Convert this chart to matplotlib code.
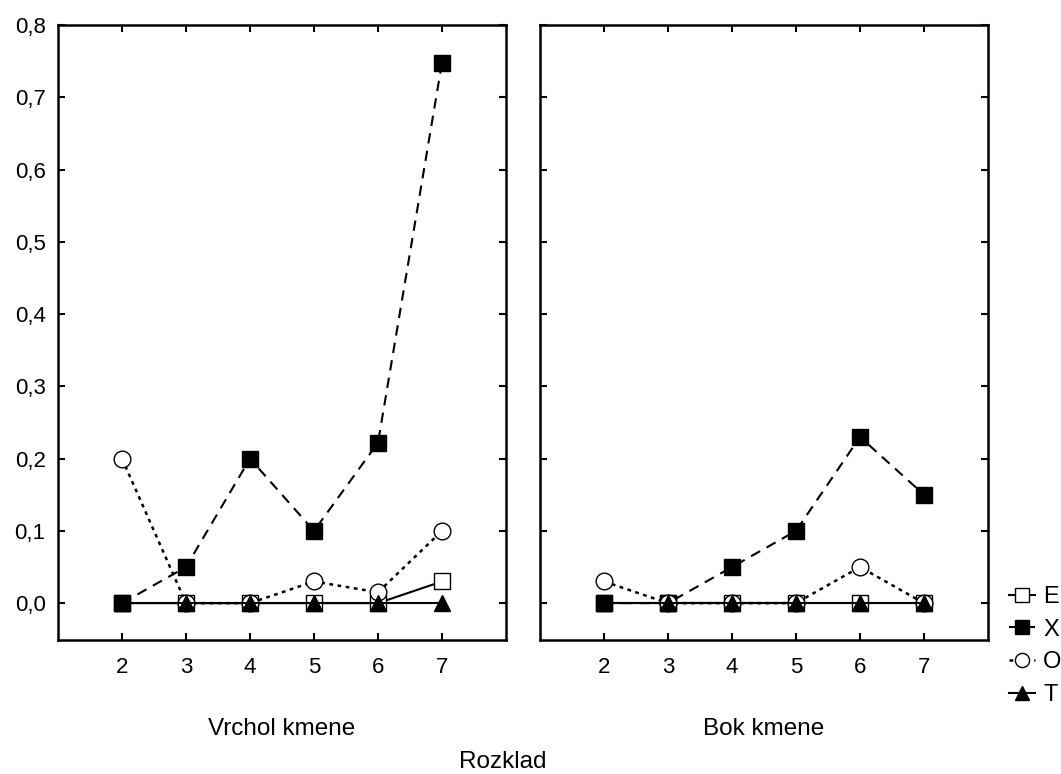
import matplotlib
matplotlib.use("Agg")
import matplotlib.pyplot as plt

plt.rcParams["font.family"] = ["Liberation Sans", "DejaVu Sans"]

rozklad = [2, 3, 4, 5, 6, 7]
panels = ["Vrchol kmene", "Bok kmene"]

# values per panel: (Vrchol kmene, Bok kmene)
e_vals = ([0, 0, 0, 0, 0, 0.03], [0, 0, 0, 0, 0, 0])
x_vals = ([0, 0.05, 0.20, 0.10, 0.222, 0.748], [0, 0, 0.05, 0.10, 0.23, 0.15])
o_vals = ([0.20, 0, 0, 0.03, 0.015, 0.10], [0.03, 0, 0, 0, 0.05, 0])
t_vals = ([0, 0, 0, 0, 0, 0], [0, 0, 0, 0, 0, 0])

yticks = [0.0, 0.1, 0.2, 0.3, 0.4, 0.5, 0.6, 0.7, 0.8]
ytick_labels = ["0,0", "0,1", "0,2", "0,3", "0,4", "0,5", "0,6", "0,7", "0,8"]

series = [
    ("E", e_vals, dict(marker="s", mfc="white", ls="-", lw=1.5)),
    ("X", x_vals, dict(marker="s", mfc="black", ls=(0, (5, 3.5)), lw=1.5)),
    ("O", o_vals, dict(marker="o", mfc="white", ls=(0, (1.5, 1.8)), lw=1.8)),
    ("T", t_vals, dict(marker="^", mfc="black", ls="-", lw=1.5)),
]

W, H = 1061, 774
fig = plt.figure(figsize=(W / 100, H / 100), dpi=100)
w = 448 / W
h = 615 / H
bottom = 1 - 640 / H
axes = [fig.add_axes([58 / W, bottom, w, h]),
        fig.add_axes([540 / W, bottom, w, h])]

for i, ax in enumerate(axes):
    for name, vals, style in series:
        ax.plot(rozklad, vals[i], color="black", mec="black", ms=12,
                mew=1.0, label=name, clip_on=False, **style)
    ax.set_xlim(1, 8)
    ax.set_ylim(-0.051, 0.8)
    ax.set_xticks(rozklad)
    ax.set_yticks(yticks)
    if i == 0:
        ax.set_yticklabels(ytick_labels)
    else:
        ax.set_yticklabels([])
    ax.tick_params(direction="in", top=True, right=True, length=5, width=1.5,
                   labelsize=16)
    ax.tick_params(axis="x", pad=12)
    ax.tick_params(axis="y", pad=9)
    for sp in ax.spines.values():
        sp.set_linewidth(1.8)
    x0 = (58 + 448 / 2) / W if i == 0 else (540 + 448 / 2) / W
    fig.text(x0, 1 - 735 / H, panels[i], ha="center", va="baseline",
             fontsize=17.5)

fig.text(503 / W, 1 - 768 / H, "Rozklad", ha="center", va="baseline",
         fontsize=17.5)

handles, labels = axes[1].get_legend_handles_labels()
fig.legend(handles, labels, loc="upper left",
           bbox_to_anchor=(1009 / W, 1 - 586 / H),
           frameon=False, fontsize=17, handlelength=1.1, handletextpad=0.35,
           labelspacing=0.45, borderpad=0, borderaxespad=0, markerscale=0.85)

fig.savefig("out.png", dpi=100)
